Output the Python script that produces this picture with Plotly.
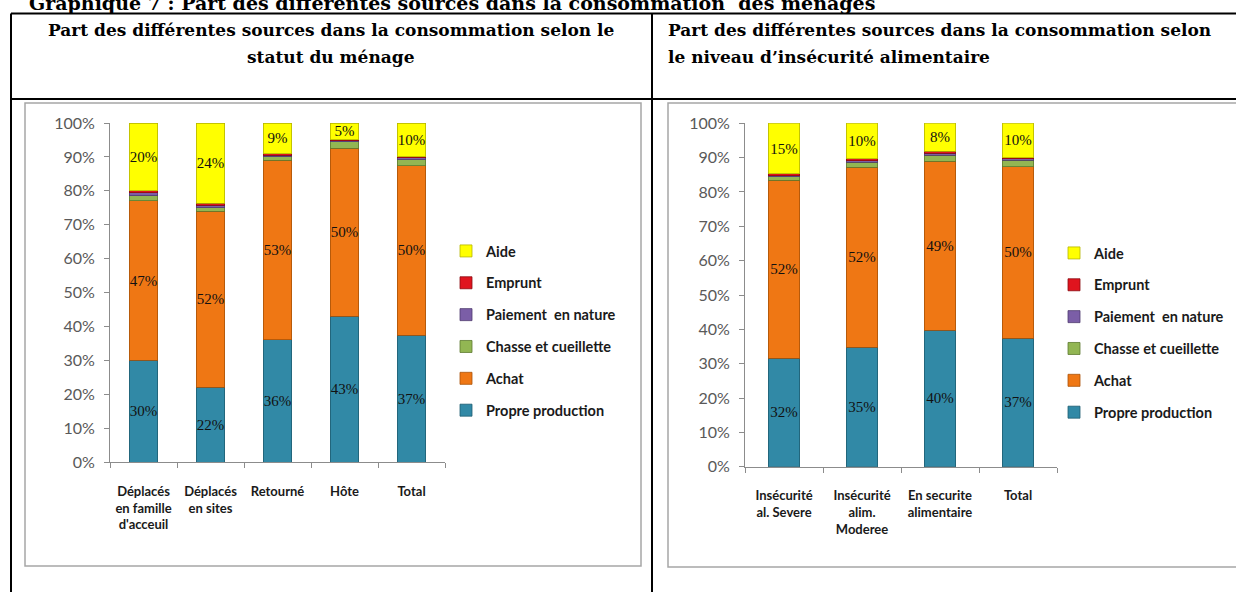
import plotly.graph_objects as go

W, H = 1236, 592

series = ["Propre production", "Achat", "Chasse et cueillette", "Paiement  en nature", "Emprunt", "Aide"]
colors = ["#3189A6", "#EF7714", "#92B653", "#7B5EA7", "#E0141E", "#FFFF00"]
edges = ["#1F5E72", "#A95208", "#5E7A30", "#4F3B70", "#8A0A10", "#B5B500"]
labelled = [True, True, False, False, False, True]

# Left chart: by household status
cats_left = ["Déplacés<br>en famille<br>d'acceuil", "Déplacés<br>en sites", "Retourné", "Hôte", "Total"]
propre_left = [30, 22, 36, 43, 37.4]
achat_left = [47, 52, 53, 49.6, 50]
chasse_left = [1.5, 1.0, 1.0, 1.9, 1.8]
paiement_left = [1.0, 0.8, 0.5, 0.3, 0.5]
emprunt_left = [0.5, 0.5, 0.5, 0.2, 0.3]
aide_left = [20, 23.7, 9, 5, 10]

# Right chart: by food insecurity level
cats_right = ["Insécurité<br>al. Severe", "Insécurité<br>alim.<br>Moderee", "En securite<br>alimentaire", "Total"]
propre_right = [31.6, 34.8, 39.8, 37.4]
achat_right = [51.8, 52.4, 49.2, 50]
chasse_right = [1.0, 1.4, 1.7, 1.8]
paiement_right = [0.4, 0.5, 0.6, 0.5]
emprunt_right = [0.5, 0.6, 0.5, 0.3]
aide_right = [14.7, 10.3, 8.2, 10]

left_vals = [propre_left, achat_left, chasse_left, paiement_left, emprunt_left, aide_left]
right_vals = [propre_right, achat_right, chasse_right, paiement_right, emprunt_right, aide_right]

def px(x):
    return x / W

def py(y):
    return 1 - y / H

fig = go.Figure()

for side, cats, vals, xa, ya, lg, bw in [
    ("L", cats_left, left_vals, "x", "y", "legend", 0.42),
    ("R", cats_right, right_vals, "x2", "y2", "legend2", 0.41),
]:
    for i, name in enumerate(series):
        fig.add_trace(go.Bar(
            x=cats, y=vals[i], name=name, xaxis=xa, yaxis=ya, legend=lg,
            legendgroup=side + name, legendrank=len(series) - i, width=bw,
            marker=dict(color=colors[i], line=dict(color=edges[i], width=0.8)),
            texttemplate="%{y:.0f}%" if labelled[i] else None,
            textposition="inside" if labelled[i] else "none",
            insidetextanchor="middle", textangle=0, constraintext="none",
            textfont=dict(family="Liberation Serif", size=15, color="#111111"),
            hoverinfo="skip",
        ))

axis_common = dict(showline=True, linecolor="#8C8C8C", linewidth=1, ticks="outside",
                   ticklen=5, tickcolor="#8C8C8C", showgrid=False, zeroline=False, automargin=False)
xfont = dict(family="Lato", size=13, color="#1A1A1A", weight="bold")
yfont = dict(family="Lato", size=16, color="#595959")
lfont = dict(family="Lato", size=14.5, color="#1A1A1A", weight="bold")

fig.update_layout(
    width=W, height=H, autosize=False,
    margin=dict(l=0, r=0, t=0, b=0, pad=0, autoexpand=False),
    paper_bgcolor="white", plot_bgcolor="white", barmode="stack",
    showlegend=True,
    xaxis=dict(domain=[px(110), px(445)], anchor="y", type="category", tickson="boundaries",
               tickfont=xfont, ticklabelstandoff=17, **axis_common),
    yaxis=dict(domain=[py(462), py(123)], anchor="x", range=[0, 100], dtick=10,
               ticksuffix="%", tickfont=yfont, ticklabelstandoff=6, **axis_common),
    xaxis2=dict(domain=[px(745), px(1057)], anchor="y2", type="category", tickson="boundaries",
                tickfont=xfont, ticklabelstandoff=17, **axis_common),
    yaxis2=dict(domain=[py(466.7), py(123.3)], anchor="x2", range=[0, 100], dtick=10,
                ticksuffix="%", tickfont=yfont, ticklabelstandoff=6, **axis_common),
    legend=dict(x=px(446), y=py(235), xanchor="left", yanchor="top", traceorder="grouped",
                tracegroupgap=10, font=lfont, bgcolor="rgba(0,0,0,0)", itemclick=False),
    legend2=dict(x=px(1054), y=py(237), xanchor="left", yanchor="top", traceorder="grouped",
                 tracegroupgap=10, font=lfont, bgcolor="rgba(0,0,0,0)", itemclick=False),
)

shapes = []
# chart image frames
shapes.append(dict(type="rect", xref="paper", yref="paper", x0=px(25), x1=px(641), y0=py(566), y1=py(103),
                   line=dict(color="#A6A6A6", width=1.5)))
shapes.append(dict(type="rect", xref="paper", yref="paper", x0=px(668), x1=px(1245), y0=py(567), y1=py(103),
                   line=dict(color="#A6A6A6", width=1.5)))
# table borders
blk = dict(color="black", width=2)
shapes.append(dict(type="line", xref="paper", yref="paper", x0=px(11), x1=px(1240), y0=py(13.5), y1=py(13.5), line=blk))
shapes.append(dict(type="line", xref="paper", yref="paper", x0=px(11), x1=px(1240), y0=py(99), y1=py(99), line=blk))
shapes.append(dict(type="line", xref="paper", yref="paper", x0=px(11), x1=px(11), y0=py(13.5), y1=py(600), line=blk))
shapes.append(dict(type="line", xref="paper", yref="paper", x0=px(652), x1=px(652), y0=py(13.5), y1=py(600), line=blk))
fig.update_layout(shapes=shapes)

tfont = dict(family="DejaVu Serif", size=19, color="black", weight="bold")
hfont = dict(family="DejaVu Serif", size=17, color="black", weight="bold")
fig.add_annotation(xref="paper", yref="paper", x=px(27), y=py(16), xanchor="left", yanchor="bottom",
                   text="Graphique 7 : Part des différentes sources dans la consommation  des ménages",
                   showarrow=False, font=tfont)
fig.add_annotation(xref="paper", yref="paper", x=px(331), y=py(30), xanchor="center", yanchor="middle",
                   text="Part des différentes sources dans la consommation selon le",
                   showarrow=False, align="center", font=hfont)
fig.add_annotation(xref="paper", yref="paper", x=px(331), y=py(57), xanchor="center", yanchor="middle",
                   text="statut du ménage", showarrow=False, align="center", font=hfont)
fig.add_annotation(xref="paper", yref="paper", x=px(666), y=py(30), xanchor="left", yanchor="middle",
                   text="Part des différentes sources dans la consommation selon",
                   showarrow=False, align="left", font=hfont)
fig.add_annotation(xref="paper", yref="paper", x=px(666), y=py(57), xanchor="left", yanchor="middle",
                   text="le niveau d’insécurité alimentaire", showarrow=False, align="left", font=hfont)

fig.write_html("out.html", config={"responsive": False})
